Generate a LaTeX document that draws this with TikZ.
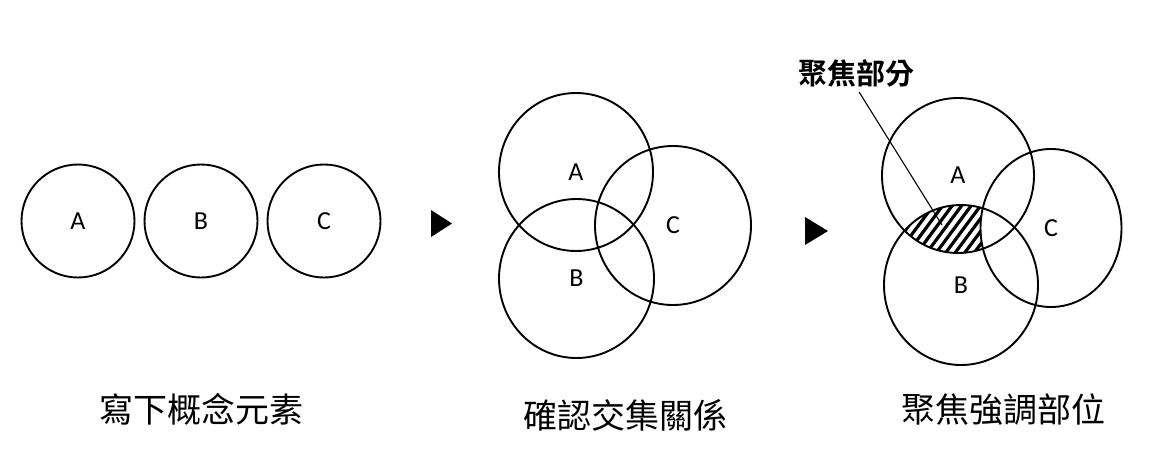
\documentclass[tikz,border=0pt]{standalone}
\usepackage{fontspec}
\setmainfont{Carlito}
\newfontfamily\cjk{Noto Sans CJK TC}
\newfontfamily\cjkbold{Noto Sans CJK TC Bold}
\usetikzlibrary{shapes.geometric}
\tikzset{
  set/.style={ellipse, draw, line width=1.9pt, inner sep=0pt, font=\fontsize{26}{30}\selectfont},
  caption/.style={font=\cjk\fontsize{34}{40}\selectfont, inner sep=0pt},
  marker/.style={fill=black},
  hatch/.style={line width=3.2pt},
}
\begin{document}
\begin{tikzpicture}[x=1pt,y=-1pt]
\useasboundingbox[fill=white] (0,0) rectangle (1170,461);

% Panel 1
\node[set, minimum width=113pt, minimum height=113pt] (a1) at (78,221) {A};
\node[set, minimum width=113pt, minimum height=113pt] (b1) at (201,221) {B};
\node[set, minimum width=113pt, minimum height=113pt] (c1) at (324,221) {C};
\fill[marker] (431,210) -- (431,237) -- (452,223.5) -- cycle;

% Panel 2
\node[set, minimum width=154pt, minimum height=158pt] (a2) at (576,172) {A};
\node[set, minimum width=155pt, minimum height=159pt] (b2) at (576.5,278.5) {B};
\node[set, minimum width=156pt, minimum height=159pt] (c2) at (673,225.5) {C};
\fill[marker] (805,217) -- (805,245) -- (828,231) -- cycle;

% Panel 3 hatching
\begin{scope}
  \clip (958,175.5) ellipse [x radius=76pt, y radius=77.5pt];
  \clip (961,285) ellipse [x radius=77pt, y radius=80pt];
  \begin{scope}[even odd rule]
    \clip (800,100) rectangle (1150,400) (1051,228) ellipse [x radius=70.5pt, y radius=79pt];
    \foreach \i in {0,...,30} {
      \draw[hatch] (840+\i*9.5,280) -- ++(66,-89);
    }
  \end{scope}
\end{scope}

\node[set, minimum width=152pt, minimum height=155pt] (a3) at (958,175.5) {A};
\node[set, minimum width=154pt, minimum height=160pt] (b3) at (961,285) {B};
\node[set, minimum width=141pt, minimum height=158pt] (c3) at (1051,228) {C};

\node[font=\cjkbold\fontsize{29}{34}\selectfont, inner sep=0pt] (title) at (856,73) {聚焦部分};
\coordinate (leadend) at (942,225);
\draw[line width=1.1pt, shorten <=6pt] (title.south) -- (leadend);

% Captions
\node[caption] (cap1) at (201,409) {寫下概念元素};
\node[caption] (cap2) at (625,415) {確認交集關係};
\node[caption] (cap3) at (1003,410) {聚焦強調部位};
\end{tikzpicture}
\end{document}
